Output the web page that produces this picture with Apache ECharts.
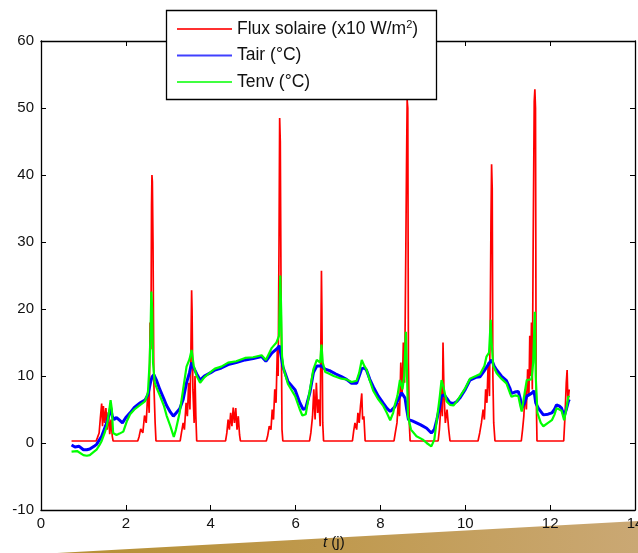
<!DOCTYPE html>
<html>
<head>
<meta charset="utf-8">
<script src="https://cdn.jsdelivr.net/npm/echarts@6/dist/echarts.min.js"></script>
<style>
html,body{margin:0;padding:0;background:#fff;}
#c{width:638px;height:553px;}
</style>
</head>
<body>
<div id="c"></div>
<script>
var seriesNames = ['Flux solaire (x10 W/m2)', 'Tair (°C)', 'Tenv (°C)'];
var xRange = [0, 14, 2];
var yRange = [-10, 60, 10];

var fluxData = [
[0.72,0.3],[1.30,0.3],[1.33,0.8],[1.37,1.5],[1.40,3.8],[1.43,5.9],[1.45,2.5],[1.47,5.5],[1.50,3.0],[1.53,5.2],[1.56,2.0],[1.59,4.6],[1.62,1.3],[1.65,3.5],[1.68,1.0],[1.70,0.3],
[2.28,0.3],[2.31,0.9],[2.35,2.1],[2.40,1.5],[2.44,4.1],[2.48,3.0],[2.52,8.0],[2.55,4.5],[2.57,18],[2.59,14],[2.605,35.5],[2.615,40],[2.625,39],[2.64,30],[2.66,8.9],[2.69,3],[2.71,0.3],
[3.28,0.3],[3.31,1.5],[3.35,3.0],[3.38,2.0],[3.42,6.0],[3.45,4.0],[3.48,9.0],[3.51,5.0],[3.53,12],[3.55,22.8],[3.56,20],[3.58,8],[3.61,3],[3.63,10],[3.65,4],[3.67,0.3],
[4.35,0.3],[4.38,1.5],[4.41,3.5],[4.44,2.0],[4.47,4.5],[4.50,2.5],[4.53,5.3],[4.56,3.0],[4.59,5.2],[4.62,2.0],[4.65,4.0],[4.68,1.2],[4.70,0.3],
[5.31,0.3],[5.34,1.0],[5.38,2.5],[5.42,2.0],[5.45,5.0],[5.48,3.5],[5.51,8.0],[5.54,6],[5.57,14],[5.59,10],[5.61,30],[5.625,48.5],[5.64,45],[5.66,20],[5.68,2],[5.70,0.3],
[6.33,0.3],[6.36,1.5],[6.40,4],[6.43,8],[6.46,3.5],[6.49,9],[6.52,4.5],[6.55,6.5],[6.58,2.5],[6.61,25.7],[6.62,20],[6.64,3],[6.66,0.3],
[7.34,0.3],[7.37,1.8],[7.40,3.0],[7.44,2.0],[7.47,4.5],[7.50,3.0],[7.53,5.5],[7.56,7.4],[7.58,3.5],[7.61,4.0],[7.64,0.3],
[8.32,0.3],[8.35,1.5],[8.39,3.0],[8.42,6],[8.45,4],[8.48,12],[8.51,7],[8.54,15],[8.57,9],[8.60,30],[8.615,41.5],[8.63,51.2],[8.645,50],[8.66,12],[8.68,3],[8.70,0.3],
[9.36,0.3],[9.39,2.0],[9.42,5],[9.44,9],[9.46,4],[9.475,15],[9.50,7],[9.53,3],[9.57,5],[9.61,2],[9.64,0.3],
[10.30,0.3],[10.34,1.5],[10.38,3.0],[10.42,5],[10.45,3.5],[10.48,8],[10.51,6],[10.54,12],[10.57,7],[10.59,20],[10.605,33],[10.62,41.6],[10.635,38],[10.65,10],[10.67,3],[10.70,0.3],
[11.32,0.3],[11.35,2],[11.38,4],[11.41,8],[11.44,5],[11.47,11],[11.50,7],[11.52,16],[11.54,10],[11.56,18],[11.58,8],[11.60,30],[11.625,51],[11.64,52.8],[11.655,50],[11.67,8],[11.69,0.3],
[12.32,0.3],[12.35,4],[12.38,9],[12.40,10.9],[12.42,6],[12.45,8]
];

var tairData = [
[0.72,-0.3],[0.80,-0.6],[0.90,-0.5],[1.00,-1.0],[1.08,-1.0],[1.15,-0.9],[1.25,-0.5],[1.31,-0.2],[1.38,0.5],[1.43,1.0],[1.50,2.2],[1.55,3.0],[1.60,4.2],[1.64,5.3],[1.68,4.0],[1.72,3.5],[1.78,3.8],[1.85,3.4],[1.92,3.0],[2.00,3.8],[2.10,4.5],[2.20,5.3],[2.34,6.0],[2.45,6.4],[2.52,7.2],[2.58,9.0],[2.62,9.9],[2.66,10.2],[2.72,9.4],[2.80,8.0],[2.90,6.5],[2.96,5.6],[3.05,4.6],[3.12,4.0],[3.20,4.6],[3.27,5.1],[3.35,6.5],[3.43,9.0],[3.50,10.5],[3.55,12.0],[3.60,11.2],[3.67,10.3],[3.75,9.4],[3.85,10.0],[4.00,10.5],[4.10,10.9],[4.25,11.2],[4.41,11.7],[4.60,12.0],[4.81,12.4],[5.00,12.6],[5.20,12.9],[5.30,12.2],[5.44,13.4],[5.55,14.0],[5.62,14.5],[5.66,13.0],[5.70,11.4],[5.82,9.2],[5.99,7.9],[6.10,6.0],[6.18,5.0],[6.24,5.2],[6.34,7.6],[6.42,10.5],[6.50,11.5],[6.61,11.5],[6.70,11.0],[6.80,10.8],[6.95,10.3],[7.08,9.9],[7.20,9.5],[7.32,8.9],[7.44,8.9],[7.50,10.0],[7.56,11.1],[7.62,11.2],[7.67,10.9],[7.75,9.5],[7.83,8.4],[7.95,7.0],[8.07,5.9],[8.15,5.2],[8.23,4.7],[8.34,5.4],[8.42,6.5],[8.50,7.5],[8.58,6.7],[8.62,5.0],[8.66,3.5],[8.75,3.3],[8.85,3.0],[8.95,2.7],[9.09,2.2],[9.20,1.5],[9.27,2.0],[9.33,3.5],[9.40,5.5],[9.44,7.0],[9.50,7.2],[9.56,6.7],[9.64,6.0],[9.72,5.9],[9.80,6.2],[9.87,6.7],[10.00,8.0],[10.11,9.4],[10.25,9.8],[10.35,9.9],[10.45,10.8],[10.55,11.8],[10.62,12.4],[10.68,11.5],[10.74,10.9],[10.85,10.0],[10.97,9.3],[11.05,8.2],[11.09,7.4],[11.17,7.6],[11.25,7.7],[11.30,6.5],[11.33,5.2],[11.40,6.0],[11.45,7.0],[11.56,7.4],[11.62,7.8],[11.66,6.0],[11.72,5.2],[11.84,4.2],[11.95,4.3],[12.04,4.5],[12.10,5.0],[12.15,5.7],[12.22,5.5],[12.27,5.2],[12.33,4.0],[12.38,5.0],[12.43,6.2],[12.45,6.5]
];

var tenvData = [
[0.72,-1.3],[0.85,-1.2],[1.00,-1.8],[1.08,-1.9],[1.15,-1.8],[1.25,-1.3],[1.31,-1.0],[1.38,-0.3],[1.43,0.3],[1.50,1.5],[1.55,2.5],[1.60,4.5],[1.64,6.4],[1.67,5.0],[1.70,1.5],[1.78,1.2],[1.85,1.4],[1.94,1.7],[2.02,3.2],[2.10,4.3],[2.20,5.0],[2.34,5.7],[2.45,6.2],[2.52,7.5],[2.56,12],[2.58,16],[2.60,22.6],[2.62,20],[2.64,12],[2.68,9],[2.74,8],[2.80,7.1],[2.90,5.5],[2.96,4.1],[3.05,2.5],[3.10,1.5],[3.13,0.9],[3.18,2.0],[3.27,4.6],[3.35,8.0],[3.43,11.4],[3.50,12.5],[3.55,13.9],[3.60,11.5],[3.67,10.0],[3.75,9.0],[3.85,9.8],[4.00,10.6],[4.10,11.1],[4.25,11.4],[4.41,12.0],[4.60,12.2],[4.81,12.7],[5.00,12.8],[5.20,13.1],[5.30,12.4],[5.44,14.2],[5.55,15.0],[5.61,16],[5.64,25],[5.66,20],[5.68,13],[5.72,11.0],[5.82,8.8],[5.99,7.0],[6.10,5.0],[6.16,4.1],[6.24,4.3],[6.34,8.0],[6.42,11.0],[6.50,12.4],[6.58,12.0],[6.61,14.7],[6.64,12.0],[6.70,10.6],[6.77,10.4],[6.90,10.0],[7.08,9.6],[7.20,9.5],[7.32,9.1],[7.44,9.3],[7.50,10.5],[7.56,12.4],[7.62,11.5],[7.67,11.0],[7.75,9.3],[7.83,7.8],[7.95,6.5],[8.07,5.5],[8.15,4.5],[8.23,3.4],[8.30,4.5],[8.34,5.7],[8.40,7.0],[8.46,9.4],[8.52,8.0],[8.56,10],[8.60,16.6],[8.62,12],[8.65,4.0],[8.72,2.0],[8.85,1.0],[9.00,0.5],[9.09,0.0],[9.20,-0.5],[9.27,0.5],[9.33,3.5],[9.40,7.0],[9.44,9.4],[9.48,8.5],[9.56,6.2],[9.64,5.7],[9.72,5.6],[9.80,6.2],[9.87,6.9],[10.00,8.2],[10.11,9.6],[10.25,10.0],[10.35,10.3],[10.45,11.5],[10.50,12.9],[10.56,13.5],[10.60,18.4],[10.62,15],[10.66,11.5],[10.74,10.4],[10.85,9.6],[10.97,8.9],[11.05,7.5],[11.09,6.9],[11.17,7.1],[11.25,7.0],[11.30,5.5],[11.33,4.7],[11.40,7.5],[11.45,9.4],[11.56,9.5],[11.60,12],[11.64,19.6],[11.66,10],[11.70,4.5],[11.78,3.0],[11.84,2.5],[11.95,3.0],[12.04,3.4],[12.10,4.2],[12.15,5.2],[12.22,5.0],[12.27,4.8],[12.33,3.4],[12.38,5.0],[12.43,7.0],[12.45,6.8]
];

var FONT = '"Liberation Sans", Arial, Helvetica, sans-serif';
var chart = echarts.init(document.getElementById('c'), null, {renderer: 'canvas'});

function axisCommon(show) {
  return {
    axisLine: {show: true, onZero: false, lineStyle: {color: '#000', width: 1.3}},
    axisTick: {show: true, inside: true, length: 5, lineStyle: {color: '#000', width: 1}},
    splitLine: {show: false},
    axisLabel: {show: show, color: '#111', fontFamily: FONT, fontSize: 15}
  };
}

var option = {
  animation: false,
  backgroundColor: '#ffffff',
  grid: {left: 41, top: 41, right: 3, bottom: 43, containLabel: false, outerBoundsMode: 'none'},
  legend: {
    orient: 'vertical',
    left: 172,
    top: 14,
    icon: 'rect',
    itemWidth: 55,
    itemHeight: 2,
    itemGap: 6.5,
    z: 30,
    textStyle: {
      fontFamily: FONT, fontSize: 17.5, color: '#111', lineHeight: 20,
      rich: {sup: {fontSize: 11, verticalAlign: 'top', lineHeight: 20, padding: [0,0,9,0], fontFamily: FONT, color: '#111'}}
    },
    formatter: function (name) {
      if (name === seriesNames[0]) return 'Flux solaire (x10 W/m{sup|2})';
      return name;
    },
    data: seriesNames
  },
  xAxis: [
    Object.assign({type: 'value', position: 'bottom', min: xRange[0], max: xRange[1], interval: xRange[2]}, axisCommon(true), {axisLabel: {show: true, color: '#111', fontFamily: FONT, fontSize: 15, margin: 6}}),
    Object.assign({type: 'value', position: 'top', min: xRange[0], max: xRange[1], interval: xRange[2]}, axisCommon(false))
  ],
  yAxis: [
    Object.assign({type: 'value', position: 'left', min: yRange[0], max: yRange[1], interval: yRange[2]}, axisCommon(true), {axisLabel: {show: true, color: '#111', fontFamily: FONT, fontSize: 15, margin: 7}}),
    Object.assign({type: 'value', position: 'right', min: yRange[0], max: yRange[1], interval: yRange[2]}, axisCommon(false))
  ],
  series: [
    {name: seriesNames[0], type: 'line', data: fluxData, xAxisIndex: 0, yAxisIndex: 0, symbol: 'none', showSymbol: false,
     lineStyle: {color: '#ff0000', width: 1.7}, itemStyle: {color: '#ff3030'}, z: 2},
    {name: seriesNames[1], type: 'line', data: tairData, xAxisIndex: 0, yAxisIndex: 0, symbol: 'none', showSymbol: false,
     lineStyle: {color: '#0000ff', width: 3}, itemStyle: {color: '#4040ff'}, z: 3},
    {name: seriesNames[2], type: 'line', data: tenvData, xAxisIndex: 0, yAxisIndex: 0, symbol: 'none', showSymbol: false,
     lineStyle: {color: '#00ff00', width: 2.2}, itemStyle: {color: '#40ff40'}, z: 4}
  ],
  graphic: [
    {type: 'polygon', z: 0, silent: true,
     shape: {points: [[57, 553], [638, 521], [638, 553]]},
     style: {fill: new echarts.graphic.LinearGradient(0, 0, 1, 0, [
       {offset: 0, color: '#b58f33'}, {offset: 0.5, color: '#c09a50'}, {offset: 1, color: '#caa874'}])}},
    {type: 'text', z: 1, silent: true, left: 323, top: 535,
     style: {text: '{i|t} (j)', fontFamily: FONT, fontSize: 15, fill: '#111',
       rich: {i: {fontStyle: 'italic', fontFamily: FONT, fontSize: 15, fill: '#111', color: '#111'}}}},
    {type: 'rect', z: 20, silent: true,
     shape: {x: 166.5, y: 10.5, width: 270, height: 89},
     style: {fill: '#ffffff', stroke: '#000', lineWidth: 1.3}}
  ]
};
chart.setOption(option);
</script>
</body>
</html>
